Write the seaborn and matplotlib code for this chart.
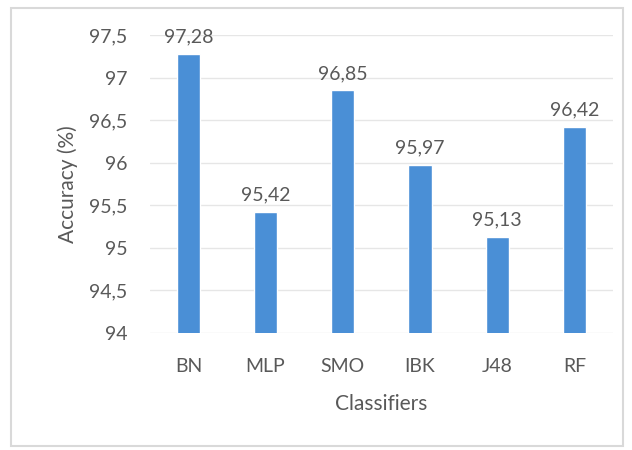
import matplotlib
matplotlib.use("Agg")
import matplotlib.pyplot as plt
import matplotlib.ticker as mticker
from matplotlib.patches import Rectangle
import seaborn as sns
import pandas as pd

# dados
classificadores = ["BN", "MLP", "SMO", "IBK", "J48", "RF"]
acuracia = [97.28, 95.42, 96.85, 95.97, 95.13, 96.42]
y_ticks = [94, 94.5, 95, 95.5, 96, 96.5, 97, 97.5]

df = pd.DataFrame({"Classifiers": classificadores, "Accuracy": acuracia})

sns.set_theme(style="white")
plt.rcParams["font.family"] = ["Lato", "DejaVu Sans"]
cinza = "#595959"

fig = plt.figure(figsize=(6.32, 4.5), dpi=100)
ax = fig.add_axes([0.237, 0.26, 0.733, 0.662])

# moldura externa do gráfico
fig.patches.append(Rectangle((0.017, 0.008), 0.968, 0.975, transform=fig.transFigure,
                             fill=False, edgecolor="#d9d9d9", linewidth=1.5))

sns.barplot(data=df, x="Classifiers", y="Accuracy", color="#4a8fd6",
            width=0.3, saturation=1, ax=ax, zorder=3)

ax.set_ylim(94, 97.5)
ax.set_yticks(y_ticks)
ax.yaxis.set_major_formatter(mticker.FuncFormatter(
    lambda v, p: (f"{v:g}").replace(".", ",")))
ax.grid(axis="y", color="#e6e6e6", linewidth=1, zorder=0)
for s in ax.spines.values():
    s.set_visible(False)
ax.tick_params(axis="both", length=0, labelsize=14, labelcolor=cinza)
ax.tick_params(axis="y", pad=16)
ax.tick_params(axis="x", pad=18)

for barra, v in zip(ax.patches, acuracia):
    ax.text(barra.get_x() + barra.get_width() / 2, v + 0.1,
            f"{v:.2f}".replace(".", ","), ha="center", va="bottom",
            fontsize=14, color=cinza)

ax.set_xlabel("Classifiers", fontsize=15, color=cinza, labelpad=14)
ax.set_ylabel("Accuracy (%)", fontsize=15, color=cinza, labelpad=8)

fig.savefig("out.png", dpi=100, facecolor="white")
